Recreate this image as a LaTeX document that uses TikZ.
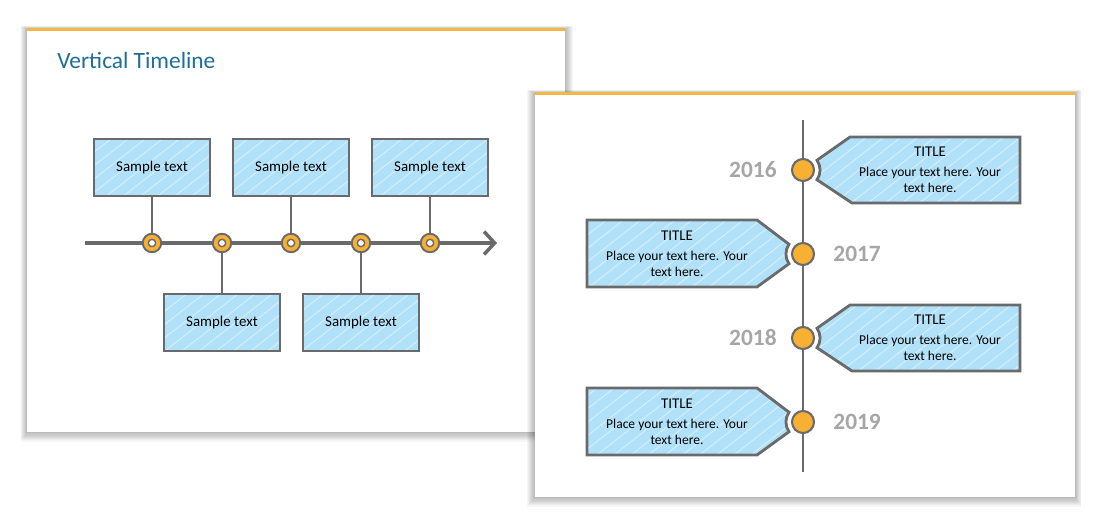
\documentclass[tikz,border=0pt]{standalone}
\usepackage{fontspec}
\setmainfont{Carlito}
\usepackage{xcolor}
\usetikzlibrary{
  arrows.meta,
  calc,
  patterns.meta,
  positioning
}

\definecolor{skyfill}{RGB}{176,225,248}
\definecolor{edgegray}{RGB}{106,106,108}
\definecolor{dotorange}{RGB}{247,176,48}
\definecolor{headblue}{RGB}{30,110,150}
\definecolor{yeargray}{RGB}{166,166,166}
\definecolor{slideline}{RGB}{242,183,70}

\begin{document}
\begin{tikzpicture}[x=0.02cm, y=-0.02cm,
  card/.style={draw=edgegray, line width=1.6pt, preaction={fill=skyfill},
    pattern={Lines[angle=38, distance=6pt, line width=0.6pt]}, pattern color=white!45!skyfill},
  box/.style={card, minimum width=2.32cm, minimum height=1.14cm, font=\fontsize{8.5}{10}\selectfont},
  ring/.style={circle, draw=edgegray, line width=1.1pt, fill=dotorange, minimum size=0.37cm, inner sep=0,
    path picture={\draw[edgegray, line width=0.8pt, fill=white] (path picture bounding box.center) circle (2.1pt);}},
  dot/.style={circle, draw=edgegray, line width=1.2pt, fill=dotorange, minimum size=0.44cm, inner sep=0},
  link/.style={draw=edgegray, line width=1.3pt},
  year/.style={font=\fontsize{13.3}{15}\selectfont\bfseries, text=yeargray, inner sep=0},
  note/.style={align=center, font=\fontsize{7.7}{9.2}\selectfont},
  shade/.style={fill=black, opacity=0.035}]

  \path[use as bounding box, fill=white] (0,0) rectangle (1099,520);

  % left slide
  \foreach \i in {1,...,8}
    \fill[shade] (27-0.8*\i,29-0.4*\i) rectangle (565+\i,432+1.2*\i);
  \fill[white] (27,29) rectangle (565,432);
  \draw[slideline, line width=1.2pt] (27,29.5) -- (565,29.5);
  \node[anchor=base west, inner sep=0, text=headblue, font=\fontsize{13.3}{15}\selectfont]
    (head) at (57,69) {Vertical Timeline};

  \coordinate (tl0) at (85,243);
  \coordinate (tl1) at (497,243);
  \draw[edgegray, line width=2pt, -{Straight Barb[length=6pt, width=13pt]}] (tl0) -- (tl1);

  \foreach \x/\y [count=\i] in {152/167.5, 222/322.5, 291/167.5, 361/322.5, 430/167.5} {
    \node[box] (s\i) at (\x,\y) {Sample text};
    \draw[link] (s\i) -- (\x,243);
    \node[ring] (r\i) at (\x,243) {};
  }

  % right slide
  \foreach \i in {1,...,8}
    \fill[shade] (535-\i,93-0.4*\i) rectangle (1075+0.8*\i,497+1.2*\i);
  \fill[white] (535,93) rectangle (1075,497);
  \draw[slideline, line width=1.2pt] (535,93.5) -- (1075,93.5);

  \coordinate (top) at (803,120);
  \coordinate (bot) at (803,472);
  \draw[link, line width=1.5pt] (top) -- (bot);

  \foreach \y [count=\i] in {170,254,338,422}
    \node[dot] (d\i) at (803,\y) {};

  \foreach \i in {1,3} {
    \draw[card, shift={(d\i)}] (47,-33) -- (217,-33) -- (217,33) -- (49,33) -- (14,9.75)
      arc[start angle=35, end angle=-35, radius=17] -- cycle;
    \node[note] (n\i) at ($(d\i)+(127,0)$) {{\fontsize{8.5}{9.2}\selectfont TITLE}\\[2pt]Place your text here. Your\\text here.};
  }
  \foreach \i in {2,4} {
    \draw[card, shift={(d\i)}] (-46,-34) -- (-216,-34) -- (-216,33) -- (-46,33) -- (-14,9.75)
      arc[start angle=145, end angle=215, radius=17] -- cycle;
    \node[note] (n\i) at ($(d\i)+(-126,0)$) {{\fontsize{8.5}{9.2}\selectfont TITLE}\\[2pt]Place your text here. Your\\text here.};
  }

  \node[year, left=0.28cm of d1] (y1) {2016};
  \node[year, right=0.36cm of d2] (y2) {2017};
  \node[year, left=0.28cm of d3] (y3) {2018};
  \node[year, right=0.36cm of d4] (y4) {2019};
\end{tikzpicture}
\end{document}
